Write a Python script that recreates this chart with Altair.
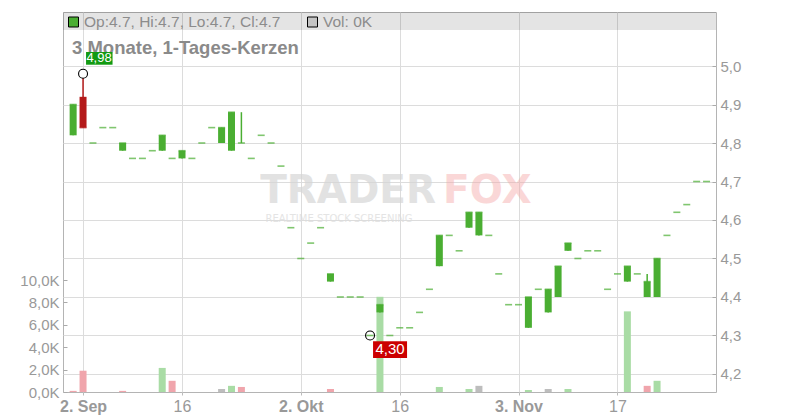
import altair as alt
import pandas as pd

# ---------------- data ----------------
opens = [4.82, 4.92, 4.80, 4.84, 4.84, 4.78, 4.76, 4.76, 4.78, 4.78,
         4.76, 4.76, 4.76, 4.80, 4.84, 4.80, 4.78, 4.80, 4.76, 4.82,
         4.80, 4.74, 4.58, 4.50, 4.54, 4.58, 4.44, 4.40, 4.40, 4.40,
         4.30, 4.36, 4.30, 4.32, 4.32, 4.36, 4.42, 4.48, 4.56, 4.52,
         4.58, 4.56, 4.56, 4.46, 4.38, 4.38, 4.32, 4.42, 4.36, 4.40,
         4.52, 4.50, 4.52, 4.52, 4.42, 4.46, 4.44, 4.46, 4.40, 4.40,
         4.56, 4.62, 4.64, 4.70, 4.70]
closes = [4.90, 4.84, 4.80, 4.84, 4.84, 4.80, 4.76, 4.76, 4.78, 4.82,
          4.76, 4.78, 4.76, 4.80, 4.84, 4.84, 4.88, 4.80, 4.76, 4.82,
          4.80, 4.74, 4.58, 4.50, 4.54, 4.58, 4.46, 4.40, 4.40, 4.40,
          4.30, 4.38, 4.30, 4.32, 4.32, 4.36, 4.42, 4.56, 4.56, 4.52,
          4.62, 4.62, 4.56, 4.46, 4.38, 4.38, 4.40, 4.42, 4.42, 4.48,
          4.54, 4.50, 4.52, 4.52, 4.42, 4.46, 4.48, 4.46, 4.44, 4.50,
          4.56, 4.62, 4.64, 4.70, 4.70]
highs = [4.90, 4.98, 4.80, 4.84, 4.84, 4.80, 4.76, 4.76, 4.78, 4.82,
         4.76, 4.78, 4.76, 4.80, 4.84, 4.84, 4.88, 4.88, 4.76, 4.82,
         4.80, 4.74, 4.58, 4.50, 4.54, 4.58, 4.46, 4.40, 4.40, 4.40,
         4.30, 4.38, 4.30, 4.32, 4.32, 4.36, 4.42, 4.56, 4.56, 4.52,
         4.62, 4.62, 4.56, 4.46, 4.38, 4.38, 4.40, 4.42, 4.42, 4.48,
         4.54, 4.50, 4.52, 4.52, 4.42, 4.46, 4.48, 4.46, 4.46, 4.50,
         4.56, 4.62, 4.64, 4.70, 4.70]
lows = [4.82, 4.84, 4.80, 4.84, 4.84, 4.78, 4.76, 4.76, 4.78, 4.78,
        4.76, 4.76, 4.76, 4.80, 4.84, 4.80, 4.78, 4.80, 4.76, 4.82,
        4.80, 4.74, 4.58, 4.50, 4.54, 4.58, 4.44, 4.40, 4.40, 4.40,
        4.30, 4.36, 4.30, 4.32, 4.32, 4.36, 4.42, 4.48, 4.56, 4.52,
        4.58, 4.56, 4.56, 4.46, 4.38, 4.38, 4.32, 4.42, 4.36, 4.40,
        4.52, 4.50, 4.52, 4.52, 4.42, 4.46, 4.44, 4.46, 4.40, 4.40,
        4.56, 4.62, 4.64, 4.70, 4.70]
volumes = [100, 1900, 0, 0, 0, 100, 0, 0, 0, 2150,
           1000, 0, 0, 0, 0, 270, 550, 450, 0, 0,
           0, 0, 0, 0, 0, 0, 270, 0, 0, 0,
           0, 8500, 0, 0, 0, 0, 0, 450, 0, 0,
           270, 550, 0, 0, 0, 0, 180, 0, 270, 0,
           270, 0, 0, 0, 0, 0, 7200, 0, 550, 1000,
           0, 0, 0, 0, 0]

tick_idx = [1, 11, 23, 33, 45, 55]
tick_labels = ["2. Sep", "16", "2. Okt", "16", "3. Nov", "17"]
bold_ticks = [1, 23, 45]
price_ticks = [4.2, 4.3, 4.4, 4.5, 4.6, 4.7, 4.8, 4.9, 5.0]
vol_ticks = [0, 2000, 4000, 6000, 8000, 10000]

title_text = "3 Monate, 1-Tages-Kerzen"
ohlc_text = "Op:4.7, Hi:4.7, Lo:4.7, Cl:4.7"
vol_text = "Vol: 0K"

# ---------------- table ----------------
n = len(closes)
candle_kind = ["down" if c < o else "up" for o, c in zip(opens, closes)]
vol_kind = []
for k in range(n):
    if k == 0:
        vol_kind.append("vdown")
    elif closes[k] > closes[k - 1]:
        vol_kind.append("vup")
    elif closes[k] < closes[k - 1]:
        vol_kind.append("vdown")
    else:
        vol_kind.append("vflat")

df = pd.DataFrame({
    "i": list(range(n)), "open": opens, "close": closes, "high": highs,
    "low": lows, "vol": volumes, "ck": candle_kind, "vk": vol_kind,
})
df["bot"] = df[["open", "close"]].min(axis=1)
df["top"] = df[["open", "close"]].max(axis=1)

hi_i = int(df["high"].idxmax())
lo_i = int(df["low"].idxmin())
fmt = lambda v: f"{v:.2f}".replace(".", ",")
ann_hi = pd.DataFrame({"i": [hi_i], "p": [highs[hi_i]], "label": [fmt(highs[hi_i])], "k": ["hi"]})
ann_lo = pd.DataFrame({"i": [lo_i], "p": [lows[lo_i]], "label": [fmt(lows[lo_i])], "k": ["lo"]})

# ---------------- scales / axes ----------------
FONT = "Liberation Sans"
W, H = 653, 380

color_scale = alt.Scale(
    domain=["up", "down", "vup", "vdown", "vflat", "hi", "lo"],
    range=["#4aae32", "#b41a1a", "#a9dca5", "#f0a5ac", "#bdbdbd", "#129a12", "#cc0000"],
)

label_expr = " : ".join(
    f"datum.value == {v} ? '{t}'" for v, t in zip(tick_idx, tick_labels)
) + " : ''"
bold_test = " || ".join(f"datum.value == {v}" for v in bold_ticks)

x_axis = alt.Axis(
    values=tick_idx, labelExpr=label_expr, title=None, grid=True,
    gridColor="#dcdcdc", domain=False, tickSize=3, tickColor="#bbbbbb",
    labelFont=FONT, labelFontSize=16, labelColor="#999999", labelPadding=3,
    labelFlush=False, labelOverlap=False,
    labelFontWeight={"condition": {"test": bold_test, "value": "bold"}, "value": "normal"},
)
x_enc = alt.X("i:Q", scale=alt.Scale(domain=[-0.52, 64.45], nice=False, zero=False), axis=x_axis)

p_scale = alt.Scale(domain=[4.1532, 5.1403], nice=False, zero=False)
p_axis = alt.Axis(
    orient="right", values=price_ticks, title=None, grid=True, gridColor="#dcdcdc",
    labelExpr="replace(format(datum.value, '.1f'), '.', ',')",
    domain=False, tickSize=4, tickColor="#aaaaaa", offset=-4, labelPadding=4,
    labelFont=FONT, labelFontSize=15, labelColor="#999999",
    labelFlush=False, labelOverlap=False,
)
v_axis = alt.Axis(
    orient="left", values=vol_ticks, title=None, grid=False,
    labelExpr="replace(format(datum.value / 1000, '.1f'), '.', ',') + 'K'",
    domain=False, tickSize=4, tickColor="#aaaaaa", offset=-4, labelPadding=4,
    labelFont=FONT, labelFontSize=15, labelColor="#999999",
    labelFlush=False, labelOverlap=False,
)


def py(field):
    return alt.Y(f"{field}:Q", scale=p_scale, axis=p_axis)


def col(field):
    return alt.Color(f"{field}:N", scale=color_scale, legend=None)


one = pd.DataFrame({"a": [0]})

# ---------------- decoration layers ----------------
band = alt.Chart(one).mark_rect(color="black", opacity=0.105).encode(
    x=alt.value(0), x2=alt.value(W), y=alt.value(0), y2=alt.value(18))

wm_trader = alt.Chart(one).mark_text(
    font="DejaVu Sans", fontWeight="bold", fontSize=39, color="#d6d6d6", opacity=0.7,
    align="right", baseline="alphabetic").encode(
    x=alt.value(373), y=alt.value(191), text=alt.value("TRADER"))
wm_fox = alt.Chart(one).mark_text(
    font="DejaVu Sans", fontWeight="bold", fontSize=39, color="#f4a8a8", opacity=0.45,
    align="left", baseline="alphabetic").encode(
    x=alt.value(380), y=alt.value(191), text=alt.value("FOX"))
wm_sub = alt.Chart(one).mark_text(
    font="DejaVu Sans", fontSize=10, color="#dedede", opacity=0.8,
    align="center", baseline="middle").encode(
    x=alt.value(276), y=alt.value(207), text=alt.value("REALTIME STOCK SCREENING"))

title = alt.Chart(one).mark_text(
    font=FONT, fontSize=18.5, fontWeight="bold", color="#8a8a8a",
    align="left", baseline="alphabetic").encode(
    x=alt.value(9), y=alt.value(42), text=alt.value(title_text))

sq_green = alt.Chart(one).mark_rect(fill="#4aae32", stroke="black", strokeWidth=1).encode(
    x=alt.value(5.5), x2=alt.value(15.5), y=alt.value(5), y2=alt.value(15))
sq_gray = alt.Chart(one).mark_rect(fill="#c4c4c4", stroke="black", strokeWidth=1).encode(
    x=alt.value(244.5), x2=alt.value(254.5), y=alt.value(5), y2=alt.value(15))
txt_ohlc = alt.Chart(one).mark_text(
    font=FONT, fontSize=15.5, color="#8c8c8c", align="left", baseline="alphabetic").encode(
    x=alt.value(21), y=alt.value(14.8), text=alt.value(ohlc_text))
txt_vol = alt.Chart(one).mark_text(
    font=FONT, fontSize=15.5, color="#8c8c8c", align="left", baseline="alphabetic").encode(
    x=alt.value(260), y=alt.value(14.8), text=alt.value(vol_text))

# ---------------- volume ----------------
vol = alt.Chart(df).mark_bar(size=7).encode(
    x=x_enc,
    y=alt.Y("vol:Q", scale=alt.Scale(domain=[0, 33930], nice=False, zero=True), axis=v_axis),
    color=col("vk"),
)

# ---------------- candles ----------------
base = alt.Chart(df)
wicks = base.mark_rule(strokeWidth=1.5).encode(x=x_enc, y=py("low"), y2="high:Q", color=col("ck"))
bodies = base.mark_bar(size=7).encode(x=x_enc, y=py("bot"), y2="top:Q", color=col("ck"))
dashes = base.mark_tick(orient="horizontal", size=7, thickness=1.6).encode(
    x=x_enc, y=py("close"), color=col("ck"))

circ_hi = alt.Chart(ann_hi).mark_point(
    shape="circle", size=80, filled=True, fill="white", stroke="black",
    strokeWidth=1.1, opacity=1).encode(x=x_enc, y=py("p"))
circ_lo = alt.Chart(ann_lo).mark_point(
    shape="circle", size=80, filled=False, stroke="black",
    strokeWidth=1.1, opacity=1).encode(x=x_enc, y=py("p"))

box_hi = alt.Chart(ann_hi).mark_rect(xOffset=3, x2Offset=29.5, yOffset=-21.7, y2Offset=-9).encode(
    x=x_enc, x2="i:Q", y=py("p"), y2="p:Q", color=col("k"))
lab_hi = alt.Chart(ann_hi).mark_text(
    font=FONT, fontSize=13, color="white", align="center", baseline="middle",
    dx=16, dy=-15.3).encode(x=x_enc, y=py("p"), text="label:N")
box_lo = alt.Chart(ann_lo).mark_rect(xOffset=3, x2Offset=37, yOffset=5.7, y2Offset=22.4).encode(
    x=x_enc, x2="i:Q", y=py("p"), y2="p:Q", color=col("k"))
lab_lo = alt.Chart(ann_lo).mark_text(
    font=FONT, fontSize=15, color="white", align="center", baseline="middle",
    dx=20, dy=14).encode(x=x_enc, y=py("p"), text="label:N")

price = alt.layer(wicks, bodies, dashes, circ_hi, circ_lo, box_hi, lab_hi, box_lo, lab_lo)

chart = alt.layer(
    band, wm_trader, wm_fox, wm_sub, title, sq_green, sq_gray, txt_ohlc, txt_vol,
    vol, price,
).resolve_scale(y="independent").properties(
    width=W, height=H,
    autosize=alt.AutoSizeParams(type="none"),
    padding={"left": 55, "top": 4, "right": 70, "bottom": 26},
    background="white",
).configure_view(stroke="#b4b4b4", strokeWidth=1)

chart.save("out.html", embed_options={"renderer": "svg", "actions": False})
